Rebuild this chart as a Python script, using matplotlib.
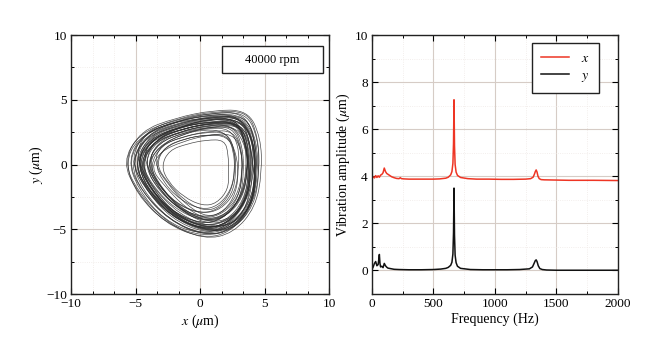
import numpy as np
import matplotlib
matplotlib.use('Agg')
import matplotlib.pyplot as plt
from matplotlib.path import Path
from matplotlib.patches import PathPatch, Rectangle
from matplotlib.ticker import MultipleLocator

plt.rcParams['font.family'] = ['Liberation Serif', 'DejaVu Serif']
plt.rcParams['mathtext.fontset'] = 'stix'
plt.rcParams['font.size'] = 9

###############################################################################
# Orbit: control points of each revolution (x, y in um)

orbit_x = [
    [-3.0, -2.4, -1.0, 0.5, 1.9, 2.2, 2.2, 2.2, 1.3, 0.2, -1.3, -2.5],
    [-3.5, -2.7, -1.2, 0.5, 2.1, 2.6, 2.7, 2.4, 1.4, 0.1, -1.6, -2.9],
    [-4.0, -3.2, -1.5, 0.4, 2.1, 2.7, 2.8, 2.5, 1.4, -0.1, -1.9, -3.3],
    [-4.1, -3.2, -1.4, 0.5, 2.3, 3.0, 3.0, 2.7, 1.6, 0.1, -1.9, -3.4],
    [-3.9, -3.0, -1.2, 0.8, 2.6, 3.2, 3.3, 3.0, 1.8, 0.3, -1.7, -3.2],
    [-4.3, -3.4, -1.5, 0.6, 2.5, 3.2, 3.3, 2.9, 1.7, 0.1, -2.0, -3.6],
    [-4.1, -3.2, -1.2, 0.9, 2.9, 3.6, 3.7, 3.3, 2.1, 0.4, -1.7, -3.4],
    [-4.3, -3.4, -1.3, 0.9, 2.9, 3.6, 3.7, 3.3, 2.0, 0.3, -1.9, -3.5],
    [-4.7, -3.7, -1.7, 0.6, 2.6, 3.3, 3.4, 3.1, 1.7, 0.0, -2.2, -3.9],
    [-4.6, -3.6, -1.5, 0.8, 2.9, 3.6, 3.7, 3.3, 2.0, 0.2, -2.0, -3.8],
    [-4.9, -3.9, -1.7, 0.6, 2.8, 3.5, 3.6, 3.2, 1.8, 0.1, -2.3, -4.0],
    [-4.6, -3.6, -1.4, 0.9, 3.1, 3.8, 3.9, 3.6, 2.2, 0.4, -2.0, -3.8],
    [-4.9, -3.9, -1.7, 0.8, 3.0, 3.7, 3.8, 3.4, 2.0, 0.2, -2.2, -4.1],
    [-4.6, -3.5, -1.3, 1.2, 3.4, 4.2, 4.3, 3.9, 2.4, 0.6, -1.8, -3.7],
    [-4.9, -3.8, -1.6, 0.9, 3.1, 3.9, 4.0, 3.6, 2.2, 0.3, -2.2, -4.0],
    [-4.8, -3.7, -1.4, 1.1, 3.4, 4.2, 4.3, 3.9, 2.4, 0.5, -2.0, -3.9],
    [-5.0, -3.9, -1.6, 0.9, 3.2, 4.0, 4.1, 3.7, 2.2, 0.3, -2.2, -4.1],
    [-5.3, -4.2, -1.8, 0.7, 3.1, 3.9, 4.0, 3.6, 2.1, 0.1, -2.4, -4.4],
    [-5.1, -3.9, -1.6, 1.0, 3.4, 4.3, 4.4, 4.0, 2.4, 0.4, -2.2, -4.2],
    [-5.4, -4.3, -1.8, 0.9, 3.4, 4.2, 4.3, 3.9, 2.3, 0.2, -2.4, -4.5],
    [-5.4, -4.2, -1.6, 1.1, 3.7, 4.5, 4.6, 4.2, 2.6, 0.5, -2.3, -4.4],
    [-5.6, -4.3, -1.8, 1.0, 3.6, 4.5, 4.6, 4.2, 2.5, 0.4, -2.4, -4.6],
    [-6.0, -4.7, -2.1, 0.8, 3.4, 4.3, 4.4, 4.0, 2.3, 0.1, -2.8, -4.9],
    [-5.9, -4.6, -1.9, 1.0, 3.7, 4.7, 4.8, 4.3, 2.6, 0.3, -2.6, -4.9],
    [-4.4, -3.8, -1.9, 0.3, 2.4, 3.5, 3.9, 3.6, 2.4, 0.6, -1.6, -3.6],
    [-5.2, -3.6, -1.1, 1.3, 3.0, 3.6, 3.9, 3.7, 2.6, 0.7, -1.8, -4.0],
    [-3.6, -3.0, -1.5, 0.2, 1.8, 2.6, 3.0, 2.8, 1.9, 0.6, -1.0, -2.6],
    [-4.8, -4.1, -2.2, 0.4, 2.9, 4.1, 4.4, 4.1, 2.8, 0.8, -1.7, -3.9],
    [-5.6, -4.4, -2.0, 0.6, 3.2, 4.1, 4.1, 3.5, 2.0, -0.2, -2.8, -4.8],
    [-4.2, -3.3, -1.2, 1.2, 3.2, 3.8, 3.6, 3.0, 1.8, 0.2, -1.6, -3.2],
    [-5.0, -4.3, -2.3, 0.2, 2.6, 3.7, 4.2, 4.2, 3.0, 1.0, -1.6, -3.9],
    [-4.5, -3.6, -1.6, 0.6, 2.7, 3.5, 3.8, 3.5, 2.2, 0.4, -1.9, -3.7],
    [-3.8, -3.1, -1.3, 0.7, 2.5, 3.2, 3.3, 3.0, 2.0, 0.6, -1.2, -2.8],
    [-5.8, -4.9, -2.5, 0.2, 2.9, 4.0, 4.3, 4.0, 2.6, 0.3, -2.6, -4.9],
    [-4.9, -3.9, -1.5, 1.2, 3.6, 4.3, 4.2, 3.6, 2.1, 0.1, -2.3, -4.2],
    [-4.0, -3.4, -1.7, 0.4, 2.4, 3.4, 3.8, 3.7, 2.6, 0.9, -1.2, -3.0],
    [-5.3, -4.0, -1.7, 1.0, 3.5, 4.4, 4.5, 4.0, 2.3, 0.1, -2.5, -4.5],
    [-3.4, -2.8, -1.2, 0.5, 2.1, 2.7, 2.7, 2.4, 1.5, 0.3, -1.2, -2.6],
    [-4.7, -3.5, -1.2, 1.3, 3.3, 3.9, 3.9, 3.4, 2.0, 0.2, -2.0, -3.9],
    [-5.1, -4.2, -2.0, 0.5, 3.0, 4.0, 4.3, 4.1, 2.9, 0.9, -1.8, -4.1],
]
orbit_y = [
    [-0.1, 1.1, 1.6, 1.9, 1.9, 0.8, -0.6, -1.9, -3.0, -3.2, -2.5, -1.3],
    [0.1, 1.4, 2.0, 2.3, 2.3, 1.1, -0.5, -2.0, -3.2, -3.5, -2.7, -1.3],
    [0.0, 1.4, 2.1, 2.5, 2.5, 1.1, -0.6, -2.3, -3.5, -3.8, -3.0, -1.5],
    [0.2, 1.7, 2.4, 2.8, 2.8, 1.4, -0.4, -2.2, -3.5, -3.8, -3.0, -1.3],
    [-0.1, 1.5, 2.2, 2.6, 2.6, 1.1, -0.7, -2.5, -3.8, -4.2, -3.3, -1.6],
    [0.2, 1.8, 2.5, 2.9, 2.9, 1.4, -0.5, -2.4, -3.8, -4.1, -3.2, -1.5],
    [0.1, 1.7, 2.5, 2.9, 2.9, 1.4, -0.6, -2.6, -4.0, -4.4, -3.4, -1.6],
    [0.3, 2.0, 2.8, 3.2, 3.2, 1.6, -0.4, -2.4, -3.9, -4.3, -3.3, -1.4],
    [0.0, 1.7, 2.5, 3.0, 3.0, 1.4, -0.7, -2.7, -4.3, -4.6, -3.6, -1.8],
    [0.3, 2.1, 2.9, 3.3, 3.3, 1.7, -0.4, -2.5, -4.0, -4.4, -3.4, -1.5],
    [0.3, 2.0, 2.9, 3.3, 3.3, 1.7, -0.5, -2.6, -4.2, -4.6, -3.6, -1.6],
    [0.0, 1.7, 2.6, 3.1, 3.1, 1.4, -0.8, -3.0, -4.6, -4.9, -3.9, -1.9],
    [0.2, 2.0, 2.9, 3.3, 3.3, 1.6, -0.6, -2.8, -4.4, -4.8, -3.8, -1.8],
    [0.1, 1.9, 2.8, 3.3, 3.3, 1.5, -0.7, -2.9, -4.6, -5.0, -3.9, -1.9],
    [0.3, 2.2, 3.0, 3.5, 3.5, 1.8, -0.5, -2.8, -4.4, -4.8, -3.7, -1.7],
    [0.1, 2.0, 2.9, 3.4, 3.4, 1.6, -0.7, -3.0, -4.7, -5.1, -4.0, -1.9],
    [-0.1, 1.8, 2.7, 3.2, 3.2, 1.4, -0.9, -3.2, -4.9, -5.3, -4.2, -2.1],
    [0.3, 2.3, 3.2, 3.7, 3.7, 1.8, -0.5, -2.9, -4.6, -5.0, -3.9, -1.7],
    [0.2, 2.2, 3.1, 3.7, 3.7, 1.8, -0.6, -3.0, -4.8, -5.2, -4.0, -1.9],
    [0.0, 2.1, 3.0, 3.6, 3.6, 1.7, -0.8, -3.3, -5.1, -5.5, -4.3, -2.1],
    [0.5, 2.6, 3.6, 4.1, 4.1, 2.1, -0.4, -2.9, -4.8, -5.3, -4.0, -1.7],
    [0.3, 2.4, 3.4, 4.0, 4.0, 2.0, -0.6, -3.2, -5.1, -5.5, -4.3, -2.0],
    [0.2, 2.4, 3.4, 4.0, 4.0, 1.9, -0.7, -3.3, -5.3, -5.7, -4.5, -2.1],
    [0.3, 2.6, 3.6, 4.2, 4.2, 2.1, -0.6, -3.3, -5.3, -5.8, -4.5, -2.0],
    [0.6, 2.0, 2.6, 3.1, 3.4, 2.0, -0.2, -2.6, -4.2, -4.5, -3.3, -1.2],
    [0.0, 2.1, 3.1, 3.6, 3.2, 1.3, -1.0, -3.1, -4.6, -4.9, -4.1, -2.0],
    [0.2, 1.5, 2.3, 2.7, 2.6, 1.5, -0.3, -2.2, -3.6, -4.1, -3.2, -1.4],
    [-0.2, 1.6, 2.7, 3.4, 3.6, 2.0, -0.5, -3.1, -4.9, -5.2, -4.3, -2.2],
    [0.4, 2.4, 3.3, 3.8, 3.7, 1.9, -0.5, -3.0, -4.9, -5.4, -4.3, -1.9],
    [-0.4, 1.4, 2.4, 3.0, 3.0, 1.3, -0.8, -2.8, -4.2, -4.4, -3.5, -1.9],
    [0.7, 2.4, 3.2, 3.6, 3.6, 2.1, -0.2, -2.6, -4.4, -4.9, -3.9, -1.5],
    [0.0, 1.8, 2.9, 3.5, 3.6, 1.9, -0.4, -2.7, -4.5, -5.0, -3.9, -1.8],
    [-0.3, 1.0, 1.8, 2.3, 2.4, 1.2, -0.6, -2.5, -3.9, -4.3, -3.3, -1.6],
    [0.1, 2.0, 3.1, 3.8, 3.9, 2.1, -0.6, -3.1, -5.0, -5.6, -4.6, -2.3],
    [0.4, 2.3, 3.2, 3.8, 3.7, 1.8, -0.6, -2.9, -4.6, -5.0, -4.0, -1.7],
    [0.1, 1.6, 2.5, 3.0, 3.1, 1.8, -0.2, -2.4, -4.1, -4.7, -3.8, -1.8],
    [0.3, 2.4, 3.4, 3.9, 3.8, 1.8, -0.7, -3.2, -5.0, -5.4, -4.2, -1.9],
    [0.0, 1.3, 2.0, 2.3, 2.2, 1.0, -0.6, -2.1, -3.3, -3.6, -2.8, -1.3],
    [0.2, 1.9, 2.8, 3.2, 3.1, 1.4, -0.9, -3.1, -4.7, -5.1, -4.0, -1.8],
    [0.2, 2.2, 3.1, 3.6, 3.7, 2.2, -0.3, -2.8, -4.7, -5.2, -4.2, -2.0],
]

# Spectrum (Hz, um); x is shown shifted up by the source
freq_x = [0, 10, 20, 30, 40, 50, 60, 70, 80, 90, 100, 110, 120, 140, 160, 180,
          200, 220, 230, 240, 260, 300, 350, 400, 450, 500, 550, 600, 620, 640,
          650, 658, 663, 667, 671, 676, 684, 695, 720, 780, 850, 950, 1050,
          1150, 1250, 1290, 1310, 1320, 1328, 1335, 1342, 1350, 1360, 1375,
          1400, 1500, 1600, 1800, 2000]
amp_x = [3.92, 3.98, 3.93, 4.03, 3.95, 4.02, 3.96, 4.05, 4.08, 4.15, 4.35, 4.2,
         4.12, 4.05, 3.98, 3.94, 3.91, 3.9, 3.94, 3.9, 3.89, 3.88, 3.88, 3.88,
         3.88, 3.88, 3.89, 3.92, 3.96, 4.06, 4.2, 4.55, 5.4, 7.25, 5.3, 4.5,
         4.18, 4.04, 3.95, 3.9, 3.88, 3.88, 3.87, 3.87, 3.88, 3.9, 3.96, 4.08,
         4.2, 4.27, 4.18, 4.0, 3.9, 3.86, 3.85, 3.84, 3.83, 3.83, 3.82]

freq_y = [0, 10, 20, 30, 40, 50, 55, 60, 65, 70, 80, 90, 100, 110, 120, 130,
          150, 180, 220, 300, 400, 500, 560, 600, 620, 640, 650, 658, 663, 667,
          671, 676, 684, 695, 720, 800, 900, 1000, 1100, 1200, 1280, 1305,
          1318, 1328, 1335, 1342, 1352, 1365, 1385, 1420, 1500, 1700, 2000]
amp_y = [0.05, 0.15, 0.3, 0.38, 0.2, 0.25, 0.45, 0.68, 0.3, 0.15, 0.18, 0.12,
         0.3, 0.2, 0.14, 0.1, 0.08, 0.05, 0.04, 0.03, 0.03, 0.04, 0.06, 0.09,
         0.13, 0.22, 0.35, 0.7, 1.6, 3.5, 1.5, 0.65, 0.33, 0.18, 0.09, 0.04,
         0.03, 0.03, 0.03, 0.04, 0.07, 0.15, 0.3, 0.42, 0.45, 0.38, 0.2, 0.08,
         0.04, 0.02, 0.01, 0.01, 0.01]

###############################################################################

def loop_path(xs, ys):
    # quadratic spline through the midpoints of the control polygon
    pts = np.column_stack([xs, ys])
    mids = (pts + np.roll(pts, -1, axis=0)) / 2
    verts = [mids[-1]]
    codes = [Path.MOVETO]
    for i in range(len(pts)):
        verts += [pts[i], mids[i]]
        codes += [Path.CURVE3, Path.CURVE3]
    return Path(verts, codes)


def style_axes(ax):
    ax.grid(True, which='major', color='#d6ccc6', lw=0.8, ls='-')
    ax.grid(True, which='minor', color='#efe9e6', lw=0.6, ls=':')
    ax.set_axisbelow(True)
    ax.tick_params(which='both', direction='in', top=True, right=True,
                   labelsize=9.5, pad=3)
    ax.tick_params(which='major', length=4, width=0.8)
    ax.tick_params(which='minor', length=2.5, width=0.7)
    for s in ax.spines.values():
        s.set_linewidth(1.0)
        s.set_color('#222222')


fig = plt.figure(figsize=(6.6, 3.59), dpi=100, facecolor='white')

ax1 = fig.add_axes([0.1076, 0.181, 0.391, 0.7214])
for xs, ys in zip(orbit_x, orbit_y):
    ax1.add_patch(PathPatch(loop_path(xs, ys), fill=False,
                            edgecolor='#2a2a2a', lw=0.5, alpha=0.85))
ax1.set_xlim(-10, 10)
ax1.set_ylim(-10, 10)
ax1.xaxis.set_major_locator(MultipleLocator(5))
ax1.xaxis.set_minor_locator(MultipleLocator(5 / 3))
ax1.yaxis.set_major_locator(MultipleLocator(5))
ax1.yaxis.set_minor_locator(MultipleLocator(2.5))
style_axes(ax1)
ax1.set_xlabel(r'$x$ ($\mu$m)', fontsize=10, labelpad=2)
ax1.set_ylabel(r'$y$ ($\mu$m)', fontsize=10, labelpad=1)
ax1.add_patch(Rectangle((0.585, 0.853), 0.392, 0.105, transform=ax1.transAxes,
                        fill=True, facecolor='white', edgecolor='#222222',
                        lw=1.0, zorder=5))
ax1.text(0.781, 0.905, '40000 rpm', transform=ax1.transAxes, ha='center',
         va='center', fontsize=9, zorder=6)

ax2 = fig.add_axes([0.5636, 0.181, 0.3727, 0.7214])
ax2.plot(freq_x, amp_x, color='#ee3524', lw=1.1, label=r'$x$')
ax2.plot(freq_y, amp_y, color='#111111', lw=1.1, label=r'$y$')
ax2.set_xlim(0, 2000)
ax2.set_ylim(-1, 10)
ax2.xaxis.set_major_locator(MultipleLocator(500))
ax2.xaxis.set_minor_locator(MultipleLocator(250))
ax2.yaxis.set_major_locator(MultipleLocator(2))
ax2.yaxis.set_minor_locator(MultipleLocator(1))
style_axes(ax2)
ax2.set_xlabel('Frequency (Hz)', fontsize=10, labelpad=2)
ax2.set_ylabel(r'Vibration amplitude ($\mu$m)', fontsize=10, labelpad=2)
leg = ax2.legend(loc='upper right', bbox_to_anchor=(0.923, 0.969),
                 fancybox=False, edgecolor='#222222', framealpha=1,
                 fontsize=10, handlelength=2.0, borderpad=0.65,
                 labelspacing=0.25, handletextpad=0.9, borderaxespad=0)
leg.get_frame().set_linewidth(1.0)

fig.savefig('out.png', dpi=100, facecolor='white')
